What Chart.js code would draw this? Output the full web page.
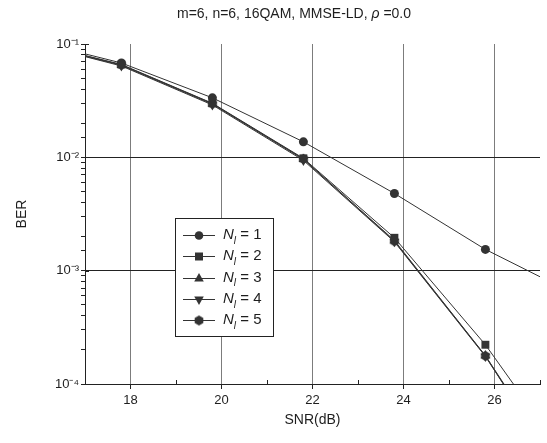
<!DOCTYPE html>
<html>
<head>
<meta charset="utf-8">
<title>BER vs SNR</title>
<script src="https://cdn.jsdelivr.net/npm/chart.js@4.4.1/dist/chart.umd.min.js"></script>
<style>
  html, body { margin: 0; padding: 0; background: #fff; }
  #wrap { width: 547px; height: 443px; }
</style>
</head>
<body>
<div id="wrap"><canvas id="ber" width="547" height="443"></canvas></div>
<script>
// values (points at 15.8 and 27.8 sit outside the axes and get clipped)
const snr = [15.8, 17.8, 19.8, 21.8, 23.8, 25.8, 27.8];
const berN1 = [0.108, 0.068, 0.0335, 0.0137, 0.0048, 0.00154, 0.00061];
const berN2 = [0.104, 0.066, 0.030, 0.0098, 0.00195, 0.000222, 0.0000166];
const berN3 = [0.103, 0.065, 0.0295, 0.0096, 0.00185, 0.000178, 0.0000105];
const berN4 = [0.103, 0.064, 0.029, 0.0094, 0.0018, 0.000175, 0.0000102];
const berN5 = [0.104, 0.0655, 0.0298, 0.0097, 0.00182, 0.000177, 0.000010];
const nlValues = ["1", "2", "3", "4", "5"];
const xTickLabels = [18, 20, 22, 24, 26];
const titleParts = ["m=6, n=6, 16QAM, MMSE-LD, ", "\u03C1", " =0.0"];

const FONT = '"Liberation Sans", Arial, sans-serif';
const INK = "#333";
const TEXT = "#1e1e1e";
const GRID_V = "#7c7c7c";
const GRID_H = "#222";
const CLEAR = "rgba(0,0,0,0)";

function hexagonImage(r) {
  const c = document.createElement("canvas");
  const s = Math.ceil(r * 2 + 2);
  c.width = s;
  c.height = s;
  const g = c.getContext("2d");
  g.fillStyle = INK;
  g.beginPath();
  for (let i = 0; i < 6; i++) {
    const a = Math.PI / 2 + (i * Math.PI) / 3;
    const px = s / 2 + r * Math.cos(a);
    const py = s / 2 + r * Math.sin(a);
    if (i === 0) g.moveTo(px, py);
    else g.lineTo(px, py);
  }
  g.closePath();
  g.fill();
  return c;
}
const hexagon = hexagonImage(5);

function isPow10(v) {
  const e = Math.log10(v);
  return Math.abs(e - Math.round(e)) < 1e-6;
}
const sup = { "-": "\u207B", "0": "\u2070", "1": "\u00B9", "2": "\u00B2", "3": "\u00B3", "4": "\u2074" };

const markers = ["circle", "rect", "triangle", "triangleDown", "hexagon"];

function series(values, i) {
  const style = markers[i];
  return {
    label: "N_l = " + nlValues[i],
    data: snr.map((x, k) => ({ x: x, y: values[k] })),
    borderColor: INK,
    backgroundColor: INK,
    borderWidth: 1,
    pointBorderWidth: 0,
    pointStyle: style === "triangleDown" ? "triangle" : style === "hexagon" ? hexagon : style,
    pointRotation: style === "triangleDown" ? 180 : 0,
    pointRadius: style === "circle" ? 4.5 : style === "rect" ? 5.6 : 5.5,
  };
}

function drawMarker(ctx, style, x, y) {
  if (style === "hexagon") {
    ctx.drawImage(hexagon, x - hexagon.width / 2, y - hexagon.height / 2);
    return;
  }
  ctx.fillStyle = INK;
  ctx.beginPath();
  if (style === "circle") ctx.arc(x, y, 4.3, 0, Math.PI * 2);
  else if (style === "rect") ctx.rect(x - 4, y - 4, 8, 8);
  else if (style === "triangle") {
    ctx.moveTo(x, y - 5.5);
    ctx.lineTo(x + 4.8, y + 3);
    ctx.lineTo(x - 4.8, y + 3);
  } else {
    ctx.moveTo(x, y + 5.5);
    ctx.lineTo(x + 4.8, y - 3);
    ctx.lineTo(x - 4.8, y - 3);
  }
  ctx.closePath();
  ctx.fill();
}

const decorations = {
  id: "decorations",
  afterDraw(chart) {
    const ctx = chart.ctx;
    const xs = chart.scales.x;
    const ys = chart.scales.y;
    const area = chart.chartArea;
    ctx.save();

    // inward minor ticks on x axis, inward half of major ticks on y axis
    ctx.strokeStyle = GRID_H;
    ctx.lineWidth = 1;
    ctx.beginPath();
    for (let v = 17; v <= 27; v++) {
      if (xTickLabels.includes(v)) continue;
      const px = Math.round(xs.getPixelForValue(v)) + 0.5;
      ctx.moveTo(px, area.bottom);
      ctx.lineTo(px, area.bottom - 4);
    }
    for (let e = -4; e <= -1; e++) {
      const py = Math.round(ys.getPixelForValue(Math.pow(10, e))) + 0.5;
      ctx.moveTo(area.left, py);
      ctx.lineTo(area.left + 4, py);
    }
    ctx.stroke();

    // title
    ctx.fillStyle = TEXT;
    ctx.textBaseline = "middle";
    const fonts = ["14px " + FONT, "italic 14px " + FONT, "14px " + FONT];
    let total = 0;
    const widths = titleParts.map((t, i) => {
      ctx.font = fonts[i];
      const w = ctx.measureText(t).width;
      total += w;
      return w;
    });
    let tx = 294 - total / 2;
    titleParts.forEach((t, i) => {
      ctx.font = fonts[i];
      ctx.fillText(t, tx, 14);
      tx += widths[i];
    });

    // legend
    const box = { left: 175, top: 218, width: 98, height: 118 };
    ctx.fillStyle = "#fff";
    ctx.fillRect(box.left, box.top, box.width, box.height);
    ctx.strokeStyle = GRID_H;
    ctx.strokeRect(box.left + 0.5, box.top + 0.5, box.width, box.height);
    nlValues.forEach((n, i) => {
      const y = box.top + 17 + i * 21.3;
      ctx.strokeStyle = INK;
      ctx.beginPath();
      ctx.moveTo(183, Math.round(y) + 0.5);
      ctx.lineTo(215, Math.round(y) + 0.5);
      ctx.stroke();
      drawMarker(ctx, markers[i], 199, Math.round(y) + 0.5);
      ctx.fillStyle = TEXT;
      ctx.textBaseline = "middle";
      let lx = 223;
      ctx.font = "italic 15px " + FONT;
      ctx.fillText("N", lx, y);
      lx += ctx.measureText("N").width;
      ctx.font = "italic 10px " + FONT;
      ctx.fillText("l", lx, y + 6);
      lx += ctx.measureText("l").width;
      ctx.font = "15px " + FONT;
      ctx.fillText(" = " + n, lx, y);
    });
    ctx.restore();
  },
};

new Chart(document.getElementById("ber"), {
  type: "line",
  data: {
    datasets: [berN1, berN2, berN3, berN4, berN5].map(series),
  },
  options: {
    responsive: false,
    animation: false,
    layout: { padding: { top: 44, right: 7, left: 0, bottom: 0 } },
    elements: { line: { tension: 0 } },
    plugins: { legend: { display: false }, tooltip: { enabled: false }, title: { display: false } },
    scales: {
      x: {
        type: "linear",
        min: 17,
        max: 27,
        afterFit: (scale) => { scale.height = 59; },
        border: { display: true, color: GRID_H, width: 1 },
        grid: {
          color: (c) => (c.tick && xTickLabels.includes(c.tick.value) ? GRID_V : CLEAR),
          tickColor: (c) => (c.tick && xTickLabels.includes(c.tick.value) ? GRID_H : CLEAR),
          tickLength: 5,
        },
        ticks: {
          stepSize: 1,
          autoSkip: false,
          maxRotation: 0,
          padding: 4,
          color: TEXT,
          font: { family: FONT, size: 13 },
          callback: (v) => (xTickLabels.includes(v) ? String(v) : ""),
        },
        title: {
          display: true,
          text: "SNR(dB)",
          color: TEXT,
          font: { family: FONT, size: 14 },
          padding: { top: 0, bottom: 14 },
        },
      },
      y: {
        type: "logarithmic",
        min: 1e-4,
        max: 1e-1,
        afterFit: (scale) => { scale.width = 85; },
        border: { display: true, color: GRID_H, width: 1 },
        grid: {
          color: (c) => {
            const v = c.tick ? c.tick.value : 0;
            return isPow10(v) && v > 2e-4 && v < 5e-2 ? GRID_H : CLEAR;
          },
          tickColor: GRID_H,
          tickLength: 4,
        },
        ticks: {
          autoSkip: false,
          padding: 2,
          color: TEXT,
          font: { family: FONT, size: 13 },
          callback: (v) => {
            if (!isPow10(v)) return "";
            const e = String(Math.round(Math.log10(v)));
            return "10" + e.split("").map((ch) => sup[ch]).join("");
          },
        },
        title: {
          display: true,
          text: "BER",
          color: TEXT,
          font: { family: FONT, size: 14 },
          padding: { top: 14, bottom: 0 },
        },
      },
    },
  },
  plugins: [decorations],
});
</script>
</body>
</html>
